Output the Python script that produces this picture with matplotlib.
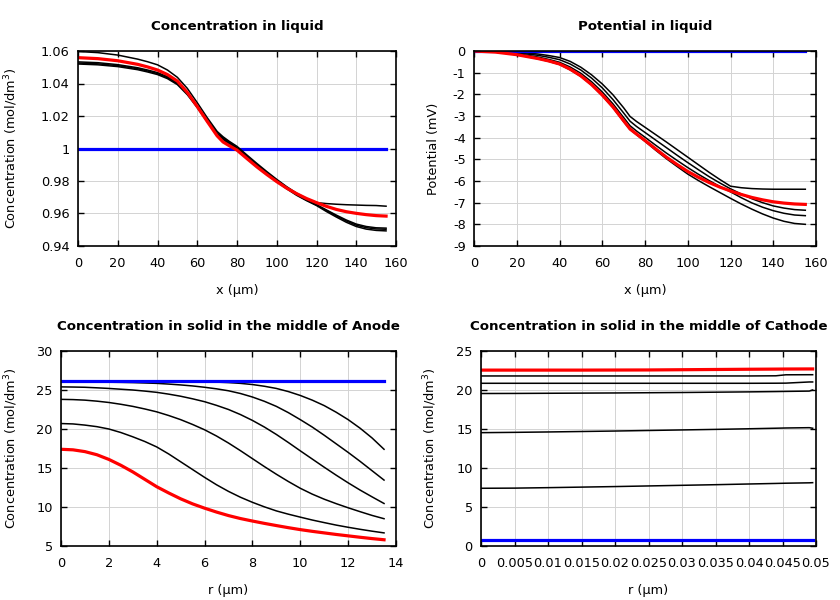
import matplotlib
matplotlib.use("Agg")
import matplotlib.pyplot as plt
from matplotlib.ticker import FuncFormatter, MultipleLocator

plt.rcParams['font.family'] = ['DejaVu Sans']
plt.rcParams['axes.unicode_minus'] = False

# ---------------- Data ----------------
# Concentration in liquid (mol/dm3) vs x (um)
liq_x = [0, 10, 20, 30, 35, 40, 45, 50, 55, 60, 65, 70, 73, 76, 80, 85, 90, 95, 100, 105,
         110, 115, 120, 125, 130, 135, 140, 145, 150, 155]
liq_x_init = [0, 155]
liq_c_init = [1.0, 1.0]
liq_c_red = [1.0559, 1.0553, 1.0540, 1.0518, 1.0502, 1.0483, 1.0455, 1.0415, 1.0345, 1.0258,
             1.0167, 1.0078, 1.0040, 1.0018, 0.9990, 0.9938, 0.9887, 0.9840, 0.9796, 0.9756,
             0.9722, 0.9692, 0.9667, 0.9644, 0.9625, 0.9611, 0.9601, 0.9593, 0.9587, 0.9584]
liq_c_k1 = [1.0597, 1.0590, 1.0575, 1.0550, 1.0534, 1.0515, 1.0483, 1.0438, 1.0370, 1.0282,
            1.0190, 1.0105, 1.0072, 1.0045, 1.0013, 0.9960, 0.9908, 0.9858, 0.9810, 0.9765,
            0.9725, 0.9692, 0.9667, 0.9661, 0.9657, 0.9654, 0.9652, 0.9650, 0.9649, 0.9645]
liq_c_k2 = [1.0533, 1.0528, 1.0516, 1.0497, 1.0483, 1.0467, 1.0442, 1.0405, 1.0342, 1.0262,
            1.0175, 1.0095, 1.0065, 1.0038, 1.0005, 0.9952, 0.9900, 0.9851, 0.9805, 0.9761,
            0.9720, 0.9686, 0.9655, 0.9622, 0.9590, 0.9560, 0.9535, 0.9520, 0.9512, 0.9510]
liq_c_k3 = [1.0526, 1.0521, 1.0510, 1.0491, 1.0477, 1.0461, 1.0436, 1.0399, 1.0337, 1.0257,
            1.0170, 1.0090, 1.0060, 1.0033, 1.0000, 0.9947, 0.9895, 0.9846, 0.9800, 0.9757,
            0.9716, 0.9682, 0.9652, 0.9618, 0.9585, 0.9554, 0.9528, 0.9513, 0.9505, 0.9503]
liq_c_k4 = [1.0520, 1.0515, 1.0504, 1.0485, 1.0471, 1.0455, 1.0430, 1.0393, 1.0331, 1.0252,
            1.0165, 1.0085, 1.0055, 1.0028, 0.9995, 0.9942, 0.9890, 0.9841, 0.9795, 0.9752,
            0.9712, 0.9679, 0.9649, 0.9612, 0.9578, 0.9546, 0.9520, 0.9504, 0.9496, 0.9493]

# Potential in liquid (mV) vs x (um)
pot_x = liq_x
pot_x_init = [0, 155]
pot_init = [0, 0]
pot_red = [0, -0.05, -0.17, -0.35, -0.46, -0.60, -0.84, -1.15, -1.55, -2.03, -2.58, -3.22,
           -3.60, -3.83, -4.13, -4.52, -4.90, -5.24, -5.56, -5.83, -6.07, -6.28, -6.46, -6.62,
           -6.76, -6.87, -6.96, -7.02, -7.06, -7.08]
pot_k1 = [0, -0.01, -0.05, -0.14, -0.21, -0.30, -0.48, -0.75, -1.10, -1.52, -2.02, -2.62,
          -3.02, -3.25, -3.52, -3.86, -4.20, -4.55, -4.90, -5.25, -5.60, -5.93, -6.24, -6.31,
          -6.35, -6.37, -6.38, -6.38, -6.38, -6.38]
pot_k2 = [0, -0.02, -0.08, -0.20, -0.29, -0.40, -0.60, -0.88, -1.25, -1.70, -2.24, -2.86,
          -3.24, -3.48, -3.76, -4.11, -4.46, -4.81, -5.15, -5.48, -5.80, -6.09, -6.36, -6.60,
          -6.82, -7.00, -7.15, -7.25, -7.32, -7.35]
pot_k3 = [0, -0.03, -0.12, -0.28, -0.39, -0.52, -0.74, -1.03, -1.42, -1.89, -2.44, -3.07,
          -3.45, -3.69, -3.98, -4.35, -4.71, -5.05, -5.38, -5.69, -5.98, -6.25, -6.50, -6.77,
          -7.01, -7.21, -7.37, -7.49, -7.57, -7.60]
pot_k4 = [0, -0.05, -0.17, -0.36, -0.48, -0.62, -0.87, -1.17, -1.57, -2.06, -2.61, -3.26,
          -3.62, -3.86, -4.17, -4.58, -4.97, -5.33, -5.68, -5.98, -6.26, -6.53, -6.80, -7.06,
          -7.30, -7.52, -7.71, -7.86, -7.96, -8.00]

# Concentration in solid, anode (mol/dm3) vs r (um)
an_r = [0, 0.5, 1, 1.5, 2, 2.5, 3, 3.5, 4, 4.5, 5, 5.5, 6, 6.5, 7, 7.5, 8, 8.5, 9, 9.5,
        10, 10.5, 11, 11.5, 12, 12.5, 13, 13.5]
an_r_init = [0, 13.5]
an_init = [26.1, 26.1]
an_k1 = [26.1, 26.1, 26.1, 26.1, 26.1, 26.1, 26.1, 26.1, 26.1, 26.09, 26.08, 26.07, 26.05, 26.01,
         25.95, 25.85, 25.7, 25.48, 25.2, 24.8, 24.3, 23.7, 23.0, 22.15, 21.2, 20.1, 18.85, 17.4]
an_k2 = [26.05, 26.05, 26.05, 26.03, 26.0, 25.98, 25.95, 25.9, 25.85, 25.76, 25.65, 25.52, 25.35,
         25.15, 24.9, 24.55, 24.1, 23.55, 22.9, 22.1, 21.2, 20.25, 19.2, 18.1, 17.0, 15.85, 14.65, 13.45]
an_k3 = [25.4, 25.38, 25.35, 25.28, 25.2, 25.1, 25.0, 24.86, 24.7, 24.47, 24.2, 23.87, 23.5,
         23.03, 22.5, 21.85, 21.1, 20.25, 19.3, 18.27, 17.2, 16.15, 15.1, 14.08, 13.1, 12.17, 11.3, 10.45]
an_k4 = [23.8, 23.77, 23.7, 23.57, 23.4, 23.17, 22.9, 22.57, 22.2, 21.73, 21.2, 20.58, 19.9,
         19.1, 18.2, 17.22, 16.2, 15.18, 14.2, 13.27, 12.4, 11.65, 11.0, 10.43, 9.9, 9.4, 8.92, 8.5]
an_k5 = [20.7, 20.65, 20.5, 20.3, 20.0, 19.55, 19.0, 18.4, 17.7, 16.8, 15.8, 14.8, 13.8, 12.85,
         12.0, 11.25, 10.6, 10.02, 9.5, 9.08, 8.7, 8.33, 8.0, 7.68, 7.4, 7.14, 6.9, 6.68]
an_red = [17.4, 17.33, 17.1, 16.7, 16.1, 15.35, 14.5, 13.55, 12.6, 11.8, 11.05, 10.4, 9.85, 9.35,
          8.9, 8.52, 8.2, 7.9, 7.62, 7.35, 7.1, 6.88, 6.68, 6.48, 6.3, 6.12, 5.95, 5.8]

# Concentration in solid, cathode (mol/dm3) vs r (um)
ca_r = [0, 0.005, 0.01, 0.015, 0.02, 0.025, 0.03, 0.035, 0.04, 0.044, 0.0455, 0.049, 0.0495]
ca_r_init = [0, 0.0495]
ca_init = [0.77, 0.77]
ca_red = [22.55, 22.55, 22.55, 22.55, 22.56, 22.57, 22.60, 22.63, 22.66, 22.68, 22.69, 22.70, 22.70]
ca_k1 = [21.80, 21.80, 21.80, 21.80, 21.80, 21.80, 21.80, 21.80, 21.80, 21.82, 21.95, 21.96, 21.96]
ca_k2 = [20.86, 20.86, 20.86, 20.86, 20.86, 20.86, 20.86, 20.86, 20.86, 20.87, 20.88, 21.03, 21.03]
ca_k3 = [19.55, 19.56, 19.58, 19.60, 19.62, 19.65, 19.68, 19.72, 19.76, 19.80, 19.82, 19.86, 20.0]
ca_k4 = [14.53, 14.57, 14.62, 14.68, 14.74, 14.81, 14.88, 14.95, 15.03, 15.10, 15.13, 15.17, 15.10]
ca_k5 = [7.40, 7.42, 7.48, 7.55, 7.62, 7.70, 7.78, 7.86, 7.95, 8.02, 8.05, 8.10, 8.12]

# ---------------- Figure ----------------
fig = plt.figure(figsize=(8.4, 6.0), dpi=100)
W, H = 840.0, 600.0

def make_ax(l, r, t, b):
    return fig.add_axes([l / W, (H - b) / H, (r - l) / W, (b - t) / H])

ax1 = make_ax(78, 396, 51, 246)
ax2 = make_ax(474, 816, 51, 246)
ax3 = make_ax(61, 396, 351, 546)
ax4 = make_ax(481, 816, 351, 546)

fs = 9.3
gfmt = FuncFormatter(lambda v, p: ('%g' % round(v, 6)))

def style(ax, title, xlabel, ylabel, ylab_x):
    ax.set_title(title, fontsize=9.6, fontweight='bold', pad=15)
    ax.set_xlabel(xlabel, fontsize=fs, labelpad=10)
    ax.set_ylabel(ylabel, fontsize=fs)
    ax.yaxis.set_label_coords(ylab_x, 0.5)
    ax.grid(True, color='#d3d3d3', linewidth=0.7)
    ax.set_axisbelow(True)
    ax.tick_params(direction='in', top=True, right=True, length=4.5, width=1.0,
                   labelsize=fs, pad=8)
    ax.tick_params(axis='y', pad=6)
    for s in ax.spines.values():
        s.set_linewidth(1.2)
    ax.xaxis.set_major_formatter(gfmt)
    ax.yaxis.set_major_formatter(gfmt)

blk = dict(color='black', linewidth=1.1, solid_joinstyle='round')
red = dict(color='#ff0000', linewidth=2.3, solid_joinstyle='round')
blu = dict(color='#0000ff', linewidth=2.3)

# Top-left
ax1.plot(liq_x_init, liq_c_init, **blu)
for c in (liq_c_k1, liq_c_k2, liq_c_k3, liq_c_k4):
    ax1.plot(liq_x, c, **blk)
ax1.plot(liq_x, liq_c_red, **red)
ax1.set_xlim(0, 160)
ax1.set_ylim(0.94, 1.06)
ax1.xaxis.set_major_locator(MultipleLocator(20))
ax1.yaxis.set_major_locator(MultipleLocator(0.02))
style(ax1, 'Concentration in liquid', 'x (µm)', 'Concentration (mol/dm$^3$)', -0.182)

# Top-right
for c in (pot_k1, pot_k2, pot_k3, pot_k4):
    ax2.plot(pot_x, c, **blk)
ax2.plot(pot_x_init, pot_init, **blu)
ax2.plot(pot_x, pot_red, **red)
ax2.set_xlim(0, 160)
ax2.set_ylim(-9, 0)
ax2.xaxis.set_major_locator(MultipleLocator(20))
ax2.yaxis.set_major_locator(MultipleLocator(1))
style(ax2, 'Potential in liquid', 'x (µm)', 'Potential (mV)', -0.099)

# Bottom-left
for c in (an_k1, an_k2, an_k3, an_k4, an_k5):
    ax3.plot(an_r, c, **blk)
ax3.plot(an_r_init, an_init, **blu)
ax3.plot(an_r, an_red, **red)
ax3.set_xlim(0, 14)
ax3.set_ylim(5, 30)
ax3.xaxis.set_major_locator(MultipleLocator(2))
ax3.yaxis.set_major_locator(MultipleLocator(5))
style(ax3, 'Concentration in solid in the middle of Anode', 'r (µm)',
      'Concentration (mol/dm$^3$)', -0.122)

# Bottom-right
ax4.plot(ca_r_init, ca_init, **blu)
for c in (ca_k1, ca_k2, ca_k3, ca_k4, ca_k5):
    ax4.plot(ca_r, c, **blk)
ax4.plot(ca_r, ca_red, **red)
ax4.set_xlim(0, 0.05)
ax4.set_ylim(0, 25)
ax4.xaxis.set_major_locator(MultipleLocator(0.005))
ax4.yaxis.set_major_locator(MultipleLocator(5))
style(ax4, 'Concentration in solid in the middle of Cathode', 'r (µm)',
      'Concentration (mol/dm$^3$)', -0.125)

fig.savefig('out.png', dpi=100)
